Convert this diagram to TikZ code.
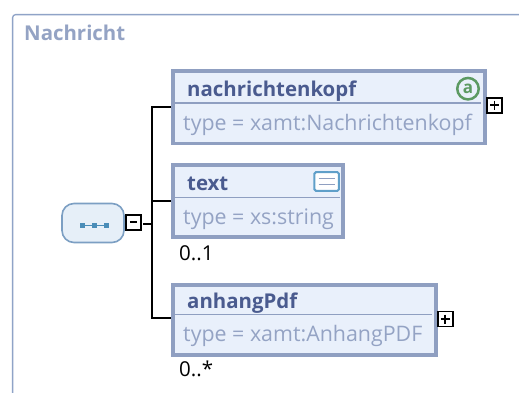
\documentclass[tikz,border=0pt]{standalone}
\usepackage{fontspec}
\setmainfont{Open Sans}
\definecolor{boxedge}{HTML}{8F9FC1}
\definecolor{boxfill}{HTML}{E9F0FB}
\definecolor{titleblue}{HTML}{4A5B8F}
\definecolor{typegrey}{HTML}{94A3C4}
\definecolor{frameedge}{HTML}{8FA3C7}
\definecolor{seqedge}{HTML}{7C9FC3}
\definecolor{seqfill}{HTML}{E6EFF8}
\definecolor{seqdot}{HTML}{4A8DB8}
\definecolor{attgreen}{HTML}{5C9A62}
\definecolor{docblue}{HTML}{5F9FC9}
\tikzset{
  elembox/.style={draw=boxedge,fill=boxfill,line width=3.6pt,rectangle,inner sep=0pt,anchor=north west},
  divider/.style={draw=boxedge,line width=1.3pt},
  nametext/.style={text=titleblue,font=\fontsize{20.4}{24}\selectfont\bfseries,anchor=base west,inner sep=0pt},
  typetext/.style={text=typegrey,font=\fontsize{21.4}{24}\selectfont,anchor=base west,inner sep=0pt},
  conn/.style={draw=black,line width=1.6pt},
  toggle/.style={draw=black,fill=white,line width=1.7pt,minimum size=15pt,inner sep=0pt,rectangle},
  occ/.style={text=black,font=\fontsize{20.5}{24}\selectfont,anchor=base west,inner sep=0pt}
}
\begin{document}
\begin{tikzpicture}[x=1pt,y=-1pt]
\useasboundingbox (0,0) rectangle (519,392);
\fill[white] (0,0) rectangle (519,392);
\draw[frameedge,line width=1.3pt,rounded corners=3pt] (12.6,400) -- (12.6,14.6) -- (530,14.6);
\node[text=typegrey,font=\fontsize{20.4}{22}\selectfont\bfseries,anchor=base west,inner sep=0pt] (title) at (24,40.5) {Nachricht};
% sequence
\node[draw=seqedge,fill=seqfill,line width=1.6pt,rounded corners=12pt,minimum width=62pt,minimum height=39pt,inner sep=0pt] (seq) at (93,223) {};
\coordinate (d1) at (82.7,225.3);
\coordinate (d2) at (94.3,225.3);
\coordinate (d3) at (106,225.3);
\draw[seqdot,line width=0.8pt] (d1) -- (d3);
\foreach \p in {d1,d2,d3} \fill[seqdot] (\p) ++(-2.5,-2.5) rectangle ++(5,5);
\node[toggle] (minus) at (133.4,222.2) {};
\draw[black,line width=1.6pt] (129.8,222.2) -- (137,222.2);
% elements
\node[elembox,minimum width=312.4pt,minimum height=72.4pt] (kopf) at (171,69.3) {};
\node[elembox,minimum width=170.4pt,minimum height=72.4pt] (txt) at (171,163) {};
\node[elembox,minimum width=263pt,minimum height=70.4pt] (anh) at (171,283) {};
\draw[divider] (175,103) -- (481,103);
\draw[divider] (175,197.7) -- (340,197.7);
\draw[divider] (175,314.5) -- (432,314.5);
\node[nametext] (n1) at (187,96) {nachrichtenkopf};
\node[typetext] (t1) at (183,130) {type = xamt:Nachrichtenkopf};
\node[nametext] (n2) at (187,190) {text};
\node[typetext] (t2) at (183,224) {type = xs:string};
\node[nametext] (n3) at (187,308) {anhangPdf};
\node[typetext] (t3) at (183,341.5) {type = xamt:AnhangPDF};
\node[occ] (o2) at (179,260) {0..1};
\node[occ] (o3) at (179,376) {0..*};
% icons
\node[draw=attgreen,fill=boxfill,line width=2.5pt,circle,minimum size=21.5pt,inner sep=0pt,text=attgreen,font=\fontsize{17}{17}\selectfont\bfseries] (att) at (468,88.7) {a};
\node[draw=docblue,fill=white,line width=2pt,rounded corners=1.5pt,minimum width=24.5pt,minimum height=18.7pt,inner sep=0pt] (doc) at (326.7,181.5) {};
\draw[boxedge,line width=1.3pt] ([xshift=-8pt,yshift=3pt]doc.center) -- ([xshift=8pt,yshift=3pt]doc.center);
\draw[boxedge,line width=1.3pt] ([xshift=-8pt,yshift=-3pt]doc.center) -- ([xshift=8pt,yshift=-3pt]doc.center);
% plus
\node[toggle] (pk) at (494.5,105.2) {};
\draw[black,line width=1.8pt] (490,105.2) -- (499,105.2) (494.5,100.7) -- (494.5,109.7);
\node[toggle] (pa) at (445.3,319) {};
\draw[black,line width=1.8pt] (440.8,319) -- (449.8,319) (445.3,314.5) -- (445.3,323.5);
% connectors
\coordinate (trunk) at (152,224);
\coordinate (minusgap) at (143.3,224);
\draw[conn] (minusgap) -- (trunk);
\draw[conn] (kopf.west |- 0,107) -| (152,318) -- (anh.west |- 0,318);
\draw[conn] (152,201) -- (txt.west |- 0,201);
\end{tikzpicture}
\end{document}
